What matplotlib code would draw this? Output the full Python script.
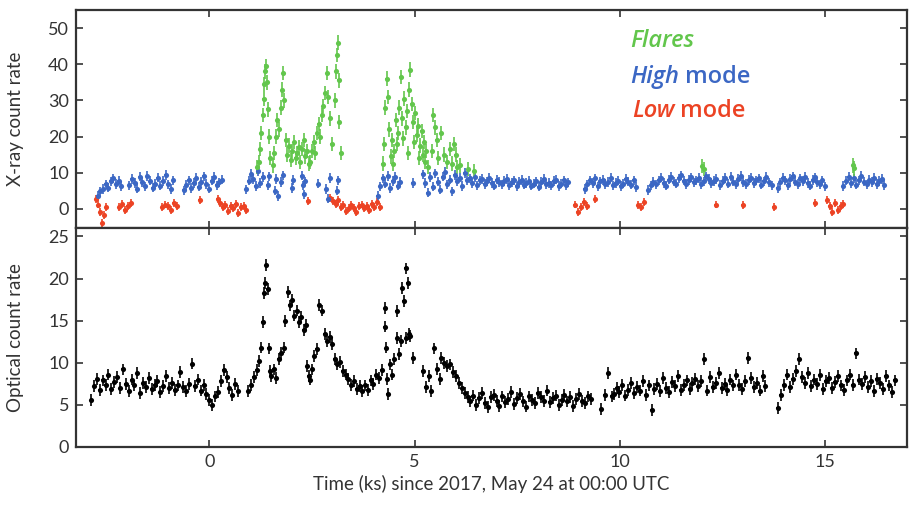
import numpy as np
import matplotlib
matplotlib.use("Agg")
from matplotlib import pyplot as plt

plt.rcParams['font.family'] = ['Lato', 'DejaVu Sans']

# X-ray light curve, high mode (blue): (start ks, end ks, count rates)
high_segments = [
    (-2.72, -2.15, [3.5, 4.8, 5.5, 6.8, 5.9, 7.6, 8.4, 6.9, 7.8, 6.2]),
    (-1.95, -0.88, [6.5, 8.2, 7.1, 5.6, 8.9, 7.4, 6.2, 9.1, 7.8, 5.9, 7.0, 8.6, 6.4, 7.7, 9.4, 6.8, 5.5, 7.9]),
    (-0.63, 0.30, [5.1, 6.6, 7.9, 5.8, 7.2, 8.5, 6.1, 7.5, 9.0, 6.9, 5.6, 7.8, 8.8, 6.5, 7.3, 8.1]),
    (0.90, 1.30, [5.4, 7.8, 9.6, 8.2, 6.3, 10.5, 7.1, 8.8]),
    (4.10, 4.65, [3.5, 6.2, 8.4, 7.0, 9.1, 5.8, 7.7, 8.9, 6.4, 7.5]),
    (5.20, 8.75, [9.5, 7.2, 4.5, 8.8, 6.1, 9.8, 7.5, 5.3, 8.9, 10.2, 6.8, 8.1, 4.8, 9.4, 7.7, 8.6, 6.3, 9.9, 7.9, 8.4,
                  7.1, 8.8, 6.5, 7.9, 8.3, 6.9, 7.6, 8.5, 7.2, 6.4, 8.1, 7.4, 6.8, 7.7, 8.2, 6.6, 7.3, 7.9, 6.2, 7.5,
                  8.0, 6.7, 7.2, 7.8, 6.4, 7.0, 7.6, 6.1, 7.4, 8.3, 6.9, 7.1, 6.5, 7.7, 8.1, 6.3, 7.0, 7.9, 6.6, 7.3]),
    (9.15, 10.40, [5.5, 6.8, 7.9, 7.1, 8.4, 6.2, 7.6, 8.0, 6.9, 7.4, 8.6, 6.5, 7.2, 7.8, 6.3, 7.0, 8.2, 7.5, 6.7, 7.9, 6.0]),
    (10.70, 12.35, [5.2, 6.5, 7.4, 6.8, 7.9, 8.6, 7.2, 6.4, 8.1, 8.9, 7.5, 7.0, 8.4, 9.3, 7.8, 6.9, 8.0, 8.7, 7.3, 7.9,
                    8.5, 6.8, 7.6, 9.0, 8.2, 7.1, 7.7, 8.3]),
    (12.45, 13.70, [6.6, 7.8, 8.5, 7.0, 8.9, 7.5, 6.8, 8.2, 9.1, 7.4, 6.9, 8.0, 8.6, 7.2, 7.9, 8.4, 6.7, 7.6, 8.8, 7.3, 6.5]),
    (13.85, 15.00, [5.8, 7.3, 8.6, 7.9, 6.6, 8.2, 9.0, 7.5, 6.9, 8.4, 7.7, 8.8, 7.1, 6.4, 8.0, 8.7, 7.4, 6.8, 7.9, 6.2]),
    (15.45, 16.45, [6.3, 7.8, 8.9, 7.2, 8.4, 6.7, 7.9, 9.2, 7.5, 6.8, 8.1, 7.4, 8.6, 6.9, 7.7, 8.3, 6.6]),
]
# isolated high-mode bins between the flares
high_t_extra = [1.42, 1.45, 1.60, 1.63, 1.68, 1.75, 1.80, 2.02, 2.05, 2.25, 2.28, 2.30, 2.33, 2.65, 2.85, 2.90, 2.95, 3.10, 3.13, 4.95]
high_y_extra = [6.5, 9.0, 5.0, 8.2, 3.5, 7.4, 9.3, 5.8, 8.0, 9.2, 6.5, 4.0, 7.6, 7.0, 5.5, 2.8, 8.5, 5.0, 7.9, 7.2]

# low mode (red)
low_segments = [
    (-2.76, -2.52, [2.8, 1.2, -0.8, -3.9, -1.6, 0.6]),
    (-2.20, -1.92, [0.6, 1.3, -0.2, 0.9, 1.5]),
    (-1.15, -0.80, [0.4, 1.2, 0.9, -0.3, 1.6, 0.7]),
    (0.20, 0.90, [2.6, 1.5, 0.4, 1.1, -0.6, 0.8, 0.2, 1.3, -1.2, 0.5, 0.9, -0.4]),
    (2.95, 4.15, [3.0, 2.1, 1.4, 2.5, 0.6, 1.1, -0.5, 0.3, 1.0, 0.2, -0.8, 0.7, 1.2, 0.1, 0.9, -0.3, 1.4, 0.5, 1.8, 0.6]),
    (8.90, 9.20, [1.2, -1.0, 0.5, 2.0, 0.8]),
    (10.45, 10.60, [1.0, 0.4, 1.8]),
    (15.05, 15.45, [2.4, 0.8, -0.9, 1.5, -0.2, 0.9, 1.3]),
]
low_t_extra = [-0.24, 2.40, 9.40, 12.34, 13.00, 13.75, 14.75]
low_y_extra = [2.5, 2.2, 2.6, 1.2, 1.0, 0.6, 1.5]

# flares (green)
flare_t = [1.16, 1.20, 1.24, 1.27, 1.30, 1.32, 1.34, 1.36, 1.38, 1.40, 1.42, 1.45, 1.48,
           1.55, 1.58, 1.62, 1.66, 1.70, 1.74, 1.77, 1.80, 1.83, 1.86,
           1.90, 1.94, 1.98, 2.02, 2.06, 2.10, 2.14, 2.18, 2.22, 2.26, 2.30, 2.34, 2.38, 2.42,
           2.46, 2.50, 2.54, 2.58, 2.62, 2.66, 2.70, 2.74, 2.78, 2.82, 2.86, 2.90, 2.94, 2.98,
           3.06, 3.09, 3.11, 3.13, 3.15, 3.17, 3.20,
           4.22, 4.26, 4.29, 4.32, 4.35, 4.38, 4.42, 4.45, 4.48, 4.51, 4.54, 4.57, 4.60, 4.63,
           4.66, 4.69, 4.72, 4.75, 4.78, 4.81, 4.84, 4.87, 4.90, 4.93, 4.96, 4.99, 5.02, 5.05,
           5.08, 5.11, 5.14, 5.17, 5.20, 5.23, 5.26, 5.29, 5.32,
           5.42, 5.46, 5.50, 5.54, 5.58, 5.65, 5.72, 5.80, 5.86,
           5.92, 5.96, 6.00, 6.04, 6.10, 6.30, 6.45, 12.00, 12.05, 15.68, 15.72]
flare_y = [11.5, 13.0, 16.5, 21.0, 26.0, 30.5, 34.5, 38.0, 39.5, 35.0, 27.5, 20.0, 14.0,
           12.0, 15.5, 20.0, 24.5, 22.0, 28.0, 33.0, 37.5, 30.0, 19.0,
           15.0, 17.5, 13.5, 16.0, 18.5, 14.0, 15.5, 17.0, 13.0, 16.5, 19.0, 14.5, 16.0, 12.5,
           13.0, 16.0, 18.5, 15.5, 21.0, 23.5, 20.0, 26.0, 28.5, 32.0, 37.5, 31.0, 25.0, 18.0,
           30.0, 38.0, 42.5, 46.0, 35.5, 24.0, 15.5,
           12.5, 18.0, 28.0, 36.0, 31.0, 22.0, 14.5, 19.0, 12.5, 16.0, 24.5, 18.0, 21.0, 28.0,
           36.5, 25.0, 19.5, 30.5, 22.5, 27.0, 15.5, 33.0, 38.5, 29.0, 24.0, 18.5, 26.5, 20.5,
           23.0, 14.0, 17.5, 21.5, 15.0, 18.5, 13.0, 16.0, 11.5,
           16.0, 26.0, 22.5, 19.0, 14.0, 21.0, 15.0, 13.0, 16.5,
           12.5, 18.0, 15.0, 11.5, 12.0, 11.0, 10.5, 11.8, 11.0, 12.0, 11.2]

# optical light curve (black)
optical_segments = [
    (-2.88, 0.70, [5.6, 7.2, 8.1, 6.8, 7.9, 7.4, 8.6, 6.9, 7.7, 8.3, 7.0, 9.2, 7.5, 6.6, 8.0, 7.3, 8.8, 6.4, 7.6, 7.1,
                   8.2, 6.9, 7.4, 7.8, 6.5, 7.2, 8.4, 7.0, 7.6, 6.8, 7.3, 8.9, 7.1, 6.6, 7.5, 9.9, 7.2, 8.0, 6.7, 7.4,
                   6.3, 5.6, 5.0, 6.0, 6.5, 7.8, 9.1, 8.3, 7.0, 6.2, 7.5, 6.6]),
    (0.95, 1.22, [6.6, 7.4, 8.3, 9.1, 10.2]),
    (1.50, 1.82, [8.4, 9.2, 8.2, 10.4, 11.2, 11.8]),
    (1.85, 2.35, [15.0, 18.4, 16.8, 17.5, 15.6, 16.2, 14.8, 15.4, 13.9, 14.5]),
    (2.55, 3.00, [10.8, 11.6, 16.9, 16.2, 13.4, 12.6, 13.1, 12.2]),
    (3.05, 4.20, [10.4, 9.8, 10.1, 9.0, 8.6, 8.1, 7.4, 7.8, 6.9, 7.2, 6.6, 7.3, 6.8, 7.9, 7.5, 8.6, 8.2, 9.1]),
    (5.20, 5.62, [9.0, 7.1, 8.4, 6.6, 11.7, 9.3, 8.1]),
    (5.65, 6.30, [10.6, 10.0, 9.6, 9.8, 8.9, 8.4, 7.6, 7.0, 6.4, 5.9]),
    (6.35, 9.30, [5.4, 6.1, 5.0, 5.8, 6.4, 5.2, 4.7, 5.9, 6.2, 5.5, 4.9, 6.0, 5.3, 5.7, 6.5, 5.1, 5.8, 6.3, 5.4, 4.8,
                  6.0, 5.6, 5.2, 6.4, 5.9, 5.5, 6.7, 5.3, 5.8, 6.1, 5.0, 5.6, 6.2, 5.4, 5.9, 4.9, 5.7, 6.3, 5.5, 5.2,
                  6.0, 5.7]),
    (9.55, 9.80, [4.5, 6.2, 8.8, 6.0]),
    (9.85, 13.55, [6.3, 7.0, 6.5, 7.4, 6.1, 6.8, 7.6, 6.4, 7.1, 6.7, 7.8, 6.2, 7.3, 4.4, 6.9, 7.5, 6.6, 8.2, 7.0, 6.5,
                   7.7, 7.2, 8.4, 6.8, 7.4, 7.9, 6.9, 7.6, 8.1, 7.2, 7.8, 10.4, 6.7, 8.3, 7.1, 7.6, 8.8, 7.0, 7.5, 6.8,
                   8.0, 7.3, 8.6, 7.4, 6.9, 7.8, 10.6, 8.2, 7.1, 7.6, 6.7, 8.4, 7.2]),
    (13.85, 16.70, [4.6, 6.2, 7.4, 8.6, 7.1, 8.1, 9.0, 10.4, 8.3, 7.6, 8.8, 7.2, 8.0, 7.5, 8.5, 6.9, 7.8, 8.2, 7.0, 7.7,
                    8.4, 7.3, 6.8, 7.9, 8.6, 7.4, 11.1, 8.0, 7.5, 8.3, 7.1, 7.8, 6.6, 8.1, 7.6, 6.9, 8.4, 7.3, 6.5, 7.9]),
]
optical_t_extra = [1.26, 1.30, 1.33, 1.36, 1.39, 1.42, 1.45, 1.48, 2.38, 2.42, 2.46, 2.50,
                   4.27, 4.29, 4.31, 4.33, 4.35, 4.40, 4.45, 4.50, 4.56, 4.58, 4.62, 4.66, 4.70, 4.74,
                   4.78, 4.80, 4.83, 4.87, 4.90, 4.95]
optical_y_extra = [11.8, 14.8, 18.3, 19.5, 21.6, 18.8, 11.7, 9.0, 9.6, 8.4, 8.0, 9.2,
                   14.3, 16.5, 11.8, 8.1, 6.3, 9.8, 8.6, 10.4, 16.1, 12.9, 11.0, 12.6, 18.9, 17.3,
                   21.2, 12.9, 19.5, 13.4, 13.2, 10.6]

green = '#62c64c'
blue = '#3b67c4'
red = '#ec4324'


def expand(segments, t_extra, y_extra):
    t, y = [], []
    for t0, t1, vals in segments:
        t.extend(np.linspace(t0, t1, len(vals)))
        y.extend(vals)
    t.extend(t_extra)
    y.extend(y_extra)
    return np.array(t), np.array(y)


high_t, high_y = expand(high_segments, high_t_extra, high_y_extra)
low_t, low_y = expand(low_segments, low_t_extra, low_y_extra)
opt_t, opt_y = expand(optical_segments, optical_t_extra, optical_y_extra)

fig = plt.figure(figsize=(9.2, 5.05), dpi=100)
ax1 = fig.add_axes([0.0826, 0.5485, 0.9033, 0.4317])
ax2 = fig.add_axes([0.0826, 0.115, 0.9033, 0.4335], sharex=ax1)

kw = dict(fmt='o', ms=3.7, elinewidth=1.2, capsize=0, mew=0)
ax1.errorbar(low_t, low_y, yerr=1.1, xerr=0.035, color=red, **kw)
ax1.errorbar(high_t, high_y, yerr=1.3, xerr=0.035, color=blue, **kw)
ax1.errorbar(flare_t, flare_y, yerr=2.0, xerr=0.03, color=green, **kw)
ax2.errorbar(opt_t, opt_y, yerr=0.7, xerr=0.035, color='black', **kw)

ax1.set_xlim(-3.25, 17.0)
ax1.set_ylim(-5.3, 55)
ax1.set_yticks([0, 10, 20, 30, 40, 50])
ax2.set_ylim(0, 26)
ax2.set_yticks([0, 5, 10, 15, 20, 25])
ax2.set_xticks([0, 5, 10, 15])

for ax in (ax1, ax2):
    for s in ax.spines.values():
        s.set_linewidth(1.6)
        s.set_color('#333333')
    ax.tick_params(direction='in', length=5, width=1.2, top=True, right=True,
                   labelsize=13, colors='#333333', pad=5)
ax1.tick_params(labelbottom=False)

ax1.set_ylabel('X-ray count rate', fontsize=13.5, color='#333333')
ax2.set_ylabel('Optical count rate', fontsize=13.5, color='#333333')
ax2.set_xlabel('Time (ks) since 2017, May 24 at 00:00 UTC', fontsize=13.5, color='#333333', labelpad=4)
ax1.yaxis.set_label_coords(-0.062, 0.5)
ax2.yaxis.set_label_coords(-0.062, 0.5)

lab = dict(transform=ax1.transAxes, fontsize=17, fontweight='semibold', va='baseline', ha='left',
           family=['Open Sans', 'DejaVu Sans'])
ax1.text(0.667, 0.83, 'Flares', color=green, style='italic', **lab)
t_high = ax1.text(0.667, 0.665, 'High', color=blue, style='italic', **lab)
ax1.annotate(' mode', xy=(1, 0), xycoords=t_high, color=blue, fontsize=17, family=['Open Sans', 'DejaVu Sans'],
             fontweight='semibold', va='bottom', ha='left')
t_low = ax1.text(0.669, 0.509, 'Low', color=red, style='italic', **lab)
ax1.annotate(' mode', xy=(1, 0), xycoords=t_low, color=red, fontsize=17, family=['Open Sans', 'DejaVu Sans'],
             fontweight='semibold', va='bottom', ha='left')

fig.savefig('out.png', dpi=100)
